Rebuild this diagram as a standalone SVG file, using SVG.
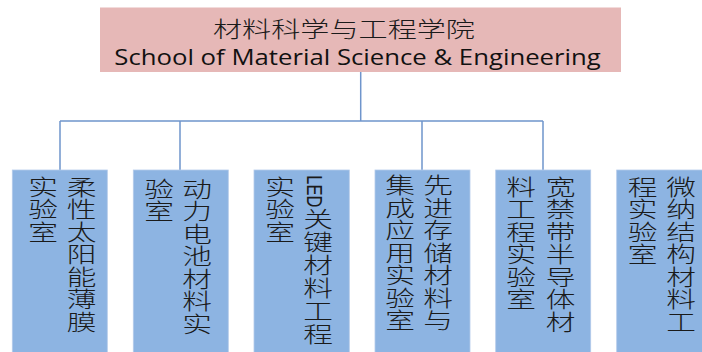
<svg xmlns="http://www.w3.org/2000/svg" width="702" height="352" viewBox="0 0 702 352">
<style>
.bg{fill:#ffffff}
.top{fill:#E6B8B7}
.box{fill:#8DB4E2;stroke:#B4CBEA;stroke-width:0.8}
.conn{fill:none;stroke:#6F95CC;stroke-width:1.5}
.cjk{font-family:"Noto Sans CJK SC","Noto Sans",sans-serif;font-weight:300;font-size:22px;fill:#1a1a1a;text-anchor:middle}
.tcjk{font-family:"Noto Sans CJK SC","Noto Sans",sans-serif;font-weight:300;font-size:22px;fill:#1a1a1a}
.en{font-family:"Open Sans","Liberation Sans",sans-serif;font-size:22px;fill:#111111}
.led{font-family:"Liberation Sans",Arial,sans-serif;font-size:16.5px;fill:#1a1a1a}
</style>
<rect class="bg" x="0" y="0" width="702" height="352"/>
<g id="connectors">
<path class="conn" d="M360.7,72 V121 M60,121 H543 M60,121 V170 M180,121 V170 M422,121 V170 M543,121 V170"/>
</g>
<g id="root">
<rect class="top" x="100" y="7.5" width="521" height="64.5"/>
<text class="tcjk" x="213" y="36.5" textLength="262" lengthAdjust="spacingAndGlyphs">材料科学与工程学院</text>
<text class="en" x="114.3" y="65" textLength="486.5" lengthAdjust="spacingAndGlyphs">School of Material Science &amp; Engineering</text>
</g>
<g id="node1">
<rect class="box" x="12.3" y="170" width="95" height="190"/>
<text class="cjk" transform="translate(81.7,0) scale(1.35,1)" x="0 0 0 0 0 0 0" y="195 217.5 240 262.5 285 307.5 330">柔性太阳能薄膜</text>
<text class="cjk" transform="translate(43,0) scale(1.35,1)" x="0 0 0" y="195 217.5 240">实验室</text>
</g>
<g id="node2">
<rect class="box" x="133.3" y="170" width="95" height="190"/>
<text class="cjk" transform="translate(197,0) scale(1.35,1)" x="0 0 0 0 0 0 0" y="196.6 219.1 241.6 264.1 286.6 309.1 331.6">动力电池材料实</text>
<text class="cjk" transform="translate(159,0) scale(1.35,1)" x="0 0" y="196.6 219.1">验室</text>
</g>
<g id="node3">
<rect class="box" x="254" y="170" width="95.3" height="190"/>
<g transform="translate(318,0) scale(1.35,1)">
<text class="led" transform="translate(-8.4,175.3) rotate(90)" x="0" y="0" textLength="32" lengthAdjust="spacingAndGlyphs">LED</text>
<text class="cjk" x="0 0 0 0 0 0" y="226.6 249.6 272.6 295.6 318.6 341.6">关键材料工程</text>
</g>
<text class="cjk" transform="translate(280,0) scale(1.35,1)" x="0 0 0" y="195 217.5 240">实验室</text>
</g>
<g id="node4">
<rect class="box" x="375" y="170" width="95" height="190"/>
<text class="cjk" transform="translate(438,0) scale(1.35,1)" x="0 0 0 0 0 0 0" y="193.3 215.8 238.3 260.8 283.3 305.8 328.3">先进存储材料与</text>
<text class="cjk" transform="translate(400,0) scale(1.35,1)" x="0 0 0 0 0 0 0" y="193.3 215.8 238.3 260.8 283.3 305.8 328.3">集成应用实验室</text>
</g>
<g id="node5">
<rect class="box" x="495.7" y="170" width="95" height="190"/>
<text class="cjk" transform="translate(560.7,0) scale(1.35,1)" x="0 0 0 0 0 0 0" y="195 217.5 240 262.5 285 307.5 330">宽禁带半导体材</text>
<text class="cjk" transform="translate(521,0) scale(1.35,1)" x="0 0 0 0 0 0" y="195 217.5 240 262.5 285 307.5">料工程实验室</text>
</g>
<g id="node6">
<rect class="box" x="616.7" y="170" width="95" height="190"/>
<text class="cjk" transform="translate(681,0) scale(1.35,1)" x="0 0 0 0 0 0 0" y="195 217.5 240 262.5 285 307.5 330">微纳结构材料工</text>
<text class="cjk" transform="translate(642.5,0) scale(1.35,1)" x="0 0 0 0" y="195 217.5 240 262.5">程实验室</text>
</g>
</svg>
